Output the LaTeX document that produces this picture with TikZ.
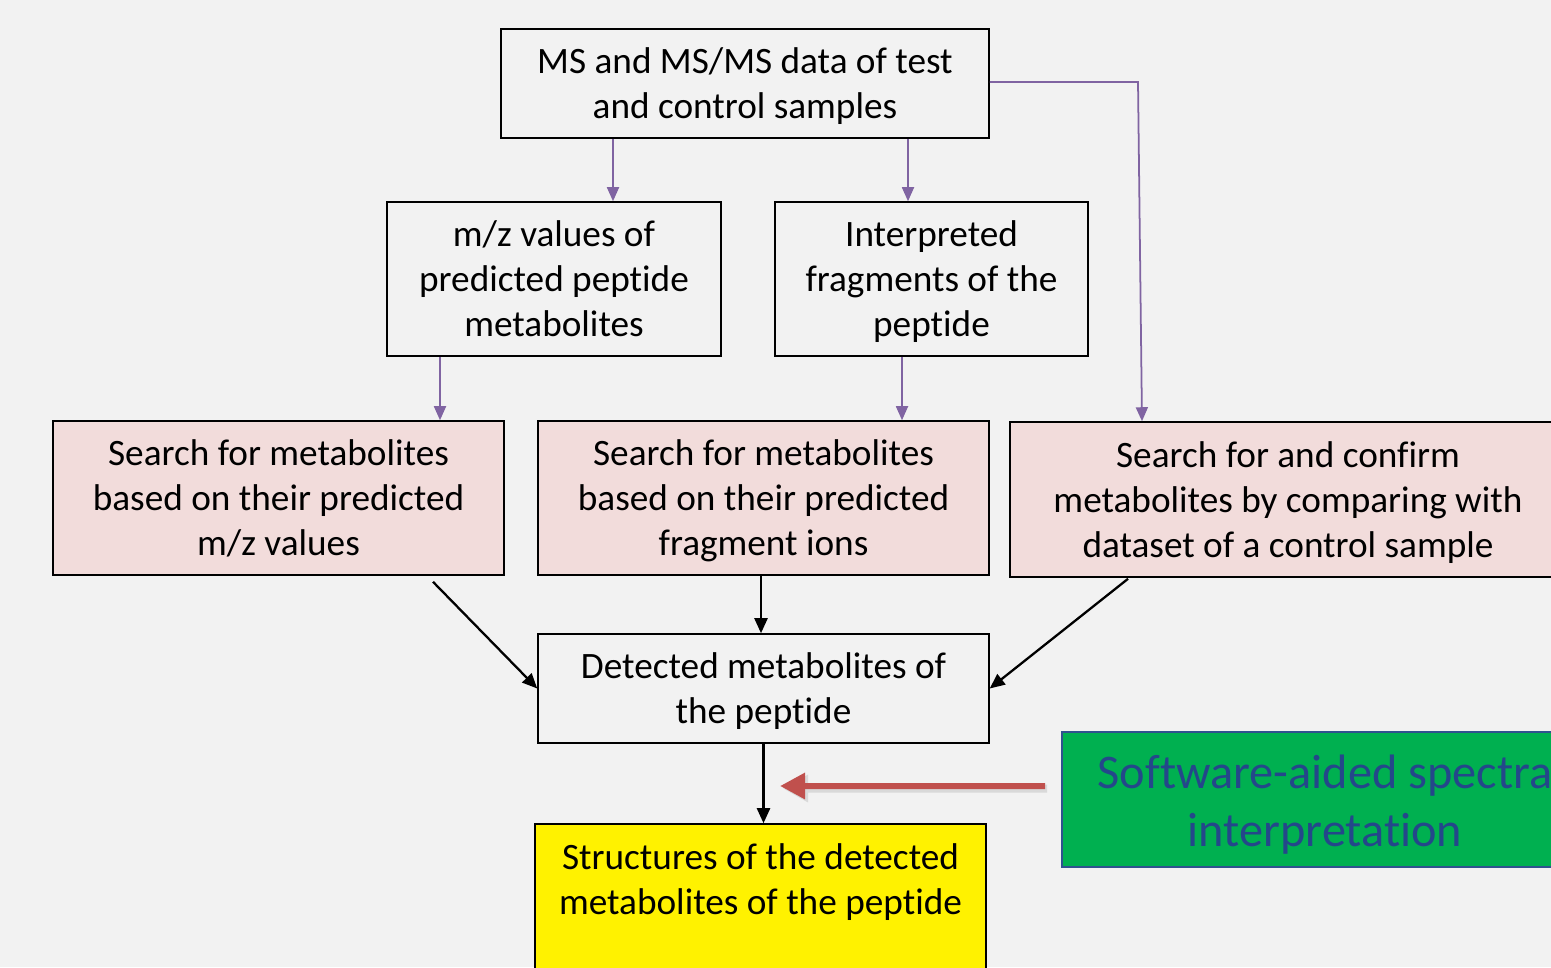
\documentclass[tikz,border=0pt]{standalone}
\usepackage{fontspec}
\setmainfont{Carlito}[RawFeature={-liga;-clig;-dlig;-calt}]
\usetikzlibrary{arrows.meta}
\definecolor{bg}{HTML}{F2F2F2}
\definecolor{pinkfill}{HTML}{F2DCDB}
\definecolor{purp}{HTML}{8064A2}
\definecolor{redarr}{HTML}{C0504D}
\definecolor{greenfill}{HTML}{00B050}
\definecolor{greenline}{HTML}{2F528F}
\definecolor{bluetext}{HTML}{24478A}
% line struts for the box texts
\newcommand{\topst}{\rule{0pt}{20.4pt}}
\newcommand{\botst}{\rule[-6pt]{0pt}{0pt}}
\begin{document}
\begin{tikzpicture}[x=0.02cm,y=-0.02cm,
    box/.style={rectangle,draw,line width=0.9pt,fill=bg,align=center,
      font=\fontsize{21.2}{25.6}\selectfont,inner sep=0pt},
    pinkbox/.style={box,fill=pinkfill},
    purparrow/.style={draw=purp,line width=1pt,-{Triangle[length=0.28cm,width=0.24cm]}},
    blackarrow/.style={draw,line width=1.3pt,-{Triangle[length=0.3cm,width=0.26cm]}}]
    \useasboundingbox (0,0) rectangle (1551,967);
    \clip (0,0) rectangle (1551,967);
    \fill[bg] (0,0) rectangle (1551,967);
    \node[box,minimum width=9.76cm,minimum height=2.18cm] (data) at (745,83.5)
      {\topst MS and MS/MS data of test\\and control samples\botst};
    \node[box,minimum width=6.68cm,minimum height=3.08cm] (mz) at (554,279)
      {\topst m/z values of\\predicted peptide\\metabolites\botst};
    \node[box,minimum width=6.26cm,minimum height=3.08cm] (frag) at (931.5,279)
      {\topst Interpreted\\fragments of the\\peptide\botst};
    \node[pinkbox,minimum width=9.02cm,minimum height=3.08cm] (smz) at (278.5,498)
      {\topst Search for metabolites\\based on their predicted\\m/z values\botst};
    \node[pinkbox,minimum width=9.02cm,minimum height=3.08cm] (sfrag) at (763.5,498)
      {\topst Search for metabolites\\based on their predicted\\fragment ions\botst};
    \node[pinkbox,minimum width=11.12cm,minimum height=3.1cm] (sctrl) at (1288,499.5)
      {\topst Search for and confirm\\metabolites by comparing with\\dataset of a control sample\botst};
    \node[box,minimum width=9.02cm,minimum height=2.18cm] (detected) at (763.5,688.5)
      {\topst Detected metabolites of\\the peptide\botst};
    \node[box,fill=yellow,minimum width=9.02cm,minimum height=3.12cm] (struct) at (760.5,902)
      {\topst Structures of the detected\\metabolites of the peptide\\\botst};
    \node[rectangle,draw=greenline,line width=1pt,fill=greenfill,text=bluetext,align=center,
      font=\fontsize{27.5}{33}\selectfont,minimum width=10.52cm,minimum height=2.7cm,
      inner sep=0pt] (soft) at (1325,799.5)
      {\rule{0pt}{28pt}Software-aided spectra\\interpretation\rule[-7.5pt]{0pt}{0pt}};
    % purple connectors
    \draw[purparrow] (data.south -| 613,0) -- (mz.north -| 613,0);
    \draw[purparrow] (data.south -| 908,0) -- (frag.north -| 908,0);
    \draw[purparrow] (data.east |- 0,82) -- (1138,82) -- (sctrl.north -| 1142,0);
    \draw[purparrow] (mz.south -| 440,0) -- (smz.north -| 440,0);
    \draw[purparrow] (frag.south -| 902,0) -- (sfrag.north -| 902,0);
    % black connectors
    \draw[blackarrow] ([xshift=3.09cm,yshift=-0.12cm]smz.south) -- (detected.west);
    \draw[blackarrow] (sfrag.south -| 761,0) -- (detected.north -| 761,0);
    \draw[blackarrow] ([xshift=-3.2cm,yshift=-0.02cm]sctrl.south) -- (detected.east);
    \draw[blackarrow] (detected.south) -- (struct.north -| 763.5,0);
    % red arrow
    \coordinate (redtip) at (780,786);
    \draw[black!15,line width=0.16cm,-{Triangle[length=0.5cm,width=0.52cm]}]
      ([xshift=-0.28cm,yshift=0.22cm]soft.west) -- ([xshift=0.06cm,yshift=-0.05cm]redtip);
    \draw[redarr,line width=0.12cm,-{Triangle[length=0.5cm,width=0.5cm]}]
      ([xshift=-0.32cm,yshift=0.27cm]soft.west) -- (redtip);
\end{tikzpicture}
\end{document}
